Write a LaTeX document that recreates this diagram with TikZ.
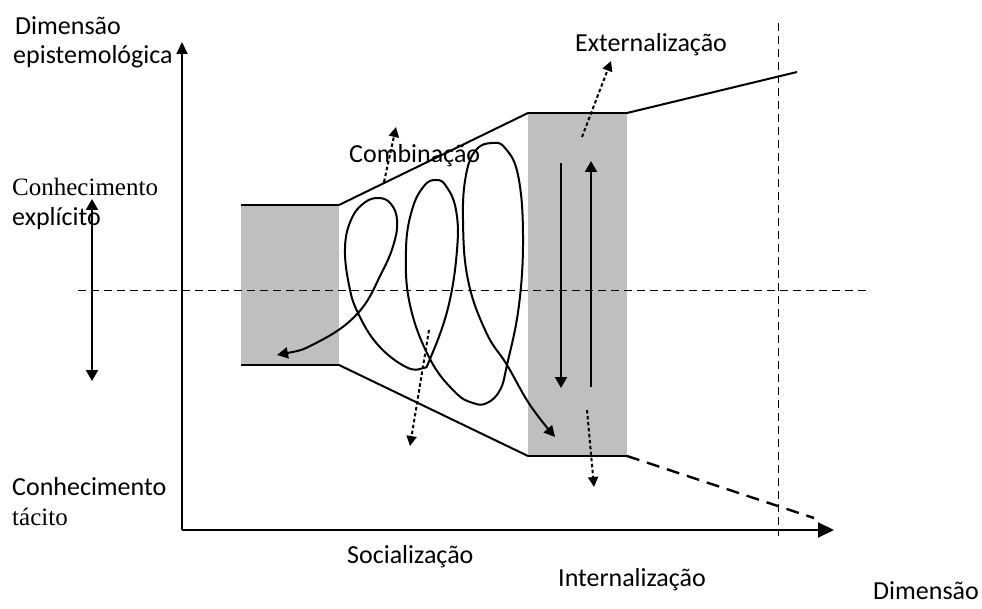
\documentclass[tikz,border=0pt]{standalone}
\usepackage{fontspec}
\setmainfont{Carlito}
\newfontfamily\seriff{Liberation Serif}
\usetikzlibrary{arrows.meta}
\begin{document}
\begin{tikzpicture}[x=1pt,y=-1pt,
  lbl/.style={inner sep=0pt, anchor=west, font=\fontsize{26}{32}\selectfont},
  slbl/.style={inner sep=0pt, anchor=west, font=\seriff\fontsize{25}{30}\selectfont},
  axisline/.style={line width=2pt, -{Triangle[length=12pt,width=11pt]}},
  xaxisline/.style={line width=2pt, -{Triangle[length=16pt,width=15pt]}},
  guide/.style={line width=0.8pt, dash pattern=on 8pt off 5pt},
  edge/.style={line width=2pt},
  thickedge/.style={line width=2.6pt},
  grayblock/.style={fill=black!25, draw=none},
  solidarrow/.style={line width=2pt, -{Triangle[length=11pt,width=12pt]}},
  dblarrow/.style={line width=2pt, {Triangle[length=11pt,width=12pt]}-{Triangle[length=11pt,width=12pt]}},
  dotarrow/.style={line width=2pt, dash pattern=on 3.5pt off 2.5pt, -{Triangle[length=10pt,width=10pt]}},
  spiral/.style={line width=2pt, {Triangle[length=11pt,width=11pt]}-{Triangle[length=11pt,width=11pt]}},
  longdash/.style={line width=2.4pt, dash pattern=on 13pt off 8pt}
]
\useasboundingbox (0,0) rectangle (982,609);

% coordinates
\coordinate (O) at (182,530);
\coordinate (Ytip) at (182,42);
\coordinate (Xtip) at (834,530);
\coordinate (HL) at (78,290);
\coordinate (HR) at (866,290);
\coordinate (VT) at (778,23);
\coordinate (VB) at (778,536);
\coordinate (L1) at (241,205);
\coordinate (L2) at (339,205);
\coordinate (L3) at (339,365);
\coordinate (L4) at (241,365);
\coordinate (R1) at (528,113);
\coordinate (R2) at (627,113);
\coordinate (R3) at (627,456);
\coordinate (R4) at (528,456);
\coordinate (TopEnd) at (797,72);
\coordinate (BotEnd) at (814,518);

% gray blocks
\fill[grayblock] (L1) rectangle (L3);
\fill[grayblock] (R1) rectangle (R3);

% guide lines
\draw[guide] (HL) -- (HR);
\draw[guide] (VT) -- (VB);

% axes
\draw[axisline] (O) -- (Ytip);
\draw[xaxisline] (O) -- (Xtip);

% block edges and funnel
\draw[thickedge] (L1) -- (L2);
\draw[thickedge] (L4) -- (L3);
\draw[thickedge] (R1) -- (R2);
\draw[thickedge] (R4) -- (R3);
\draw[edge] (L2) -- (R1);
\draw[edge] (L3) -- (R4);
\draw[edge] (R2) -- (TopEnd);
\draw[longdash] (R3) -- (BotEnd);

% left double arrow
\coordinate (DA1) at (92,199);
\coordinate (DA2) at (92,381);
\draw[dblarrow] (DA1) -- (DA2);

% arrows in right block
\coordinate (Dn1) at (561,163);
\coordinate (Dn2) at (561,388);
\coordinate (Up1) at (591,387);
\coordinate (Up2) at (591,161);
\draw[solidarrow] (Dn1) -- (Dn2);
\draw[solidarrow] (Up1) -- (Up2);

% dotted arrows
\coordinate (E1) at (582,137);
\coordinate (E2) at (611,61);
\coordinate (C1) at (384,182);
\coordinate (C2) at (396,127);
\coordinate (S1) at (429,330);
\coordinate (S2) at (410,446);
\coordinate (I1) at (587,410);
\coordinate (I2) at (594,487);
\draw[dotarrow] (E1) -- (E2);
\draw[dotarrow] (C1) -- (C2);
\draw[dotarrow] (S1) -- (S2);
\draw[dotarrow] (I1) -- (I2);

% spiral
\draw[spiral] plot[smooth, tension=0.7] coordinates {
 (277,355) (318,342) (358,313) (382,272) (394,243) (397,220) (391,204) (379,198) (364,203) (351,220) (345,248) (349,285) (358,313)
 (378,345) (406,367) (423,368) (430,359) (448,308) (457,250) (456,210) (446,186) (436,180) (424,186) (412,210) (406,250) (410,305) (430,359)
 (455,392) (473,403) (487,403) (500,390) (507,365) (519,305) (523,235) (518,175) (505,148) (492,143) (476,150) (466,175) (463,220) (468,280) (486,332) (507,365)
 (530,405) (555,437)};

% labels
\node[lbl] (dimE1) at (15,26) {Dimensão};
\node[lbl] (dimE2) at (13,57) {epistemológica};
\node[slbl] (conE) at (12,187) {Conhecimento};
\node[lbl] (expl) at (12,219) {explícito};
\node[lbl] (conT) at (12,487) {Conhecimento};
\node[slbl] (tac) at (12,517) {tácito};
\node[lbl] (comb) at (349,156) {Combinação};
\node[lbl] (ext) at (575,45) {Externalização};
\node[lbl] (soc) at (347,557) {Socialização};
\node[lbl] (int) at (558,580) {Internalização};
\node[lbl] (dimO) at (873,591) {Dimensão};
\end{tikzpicture}
\end{document}
